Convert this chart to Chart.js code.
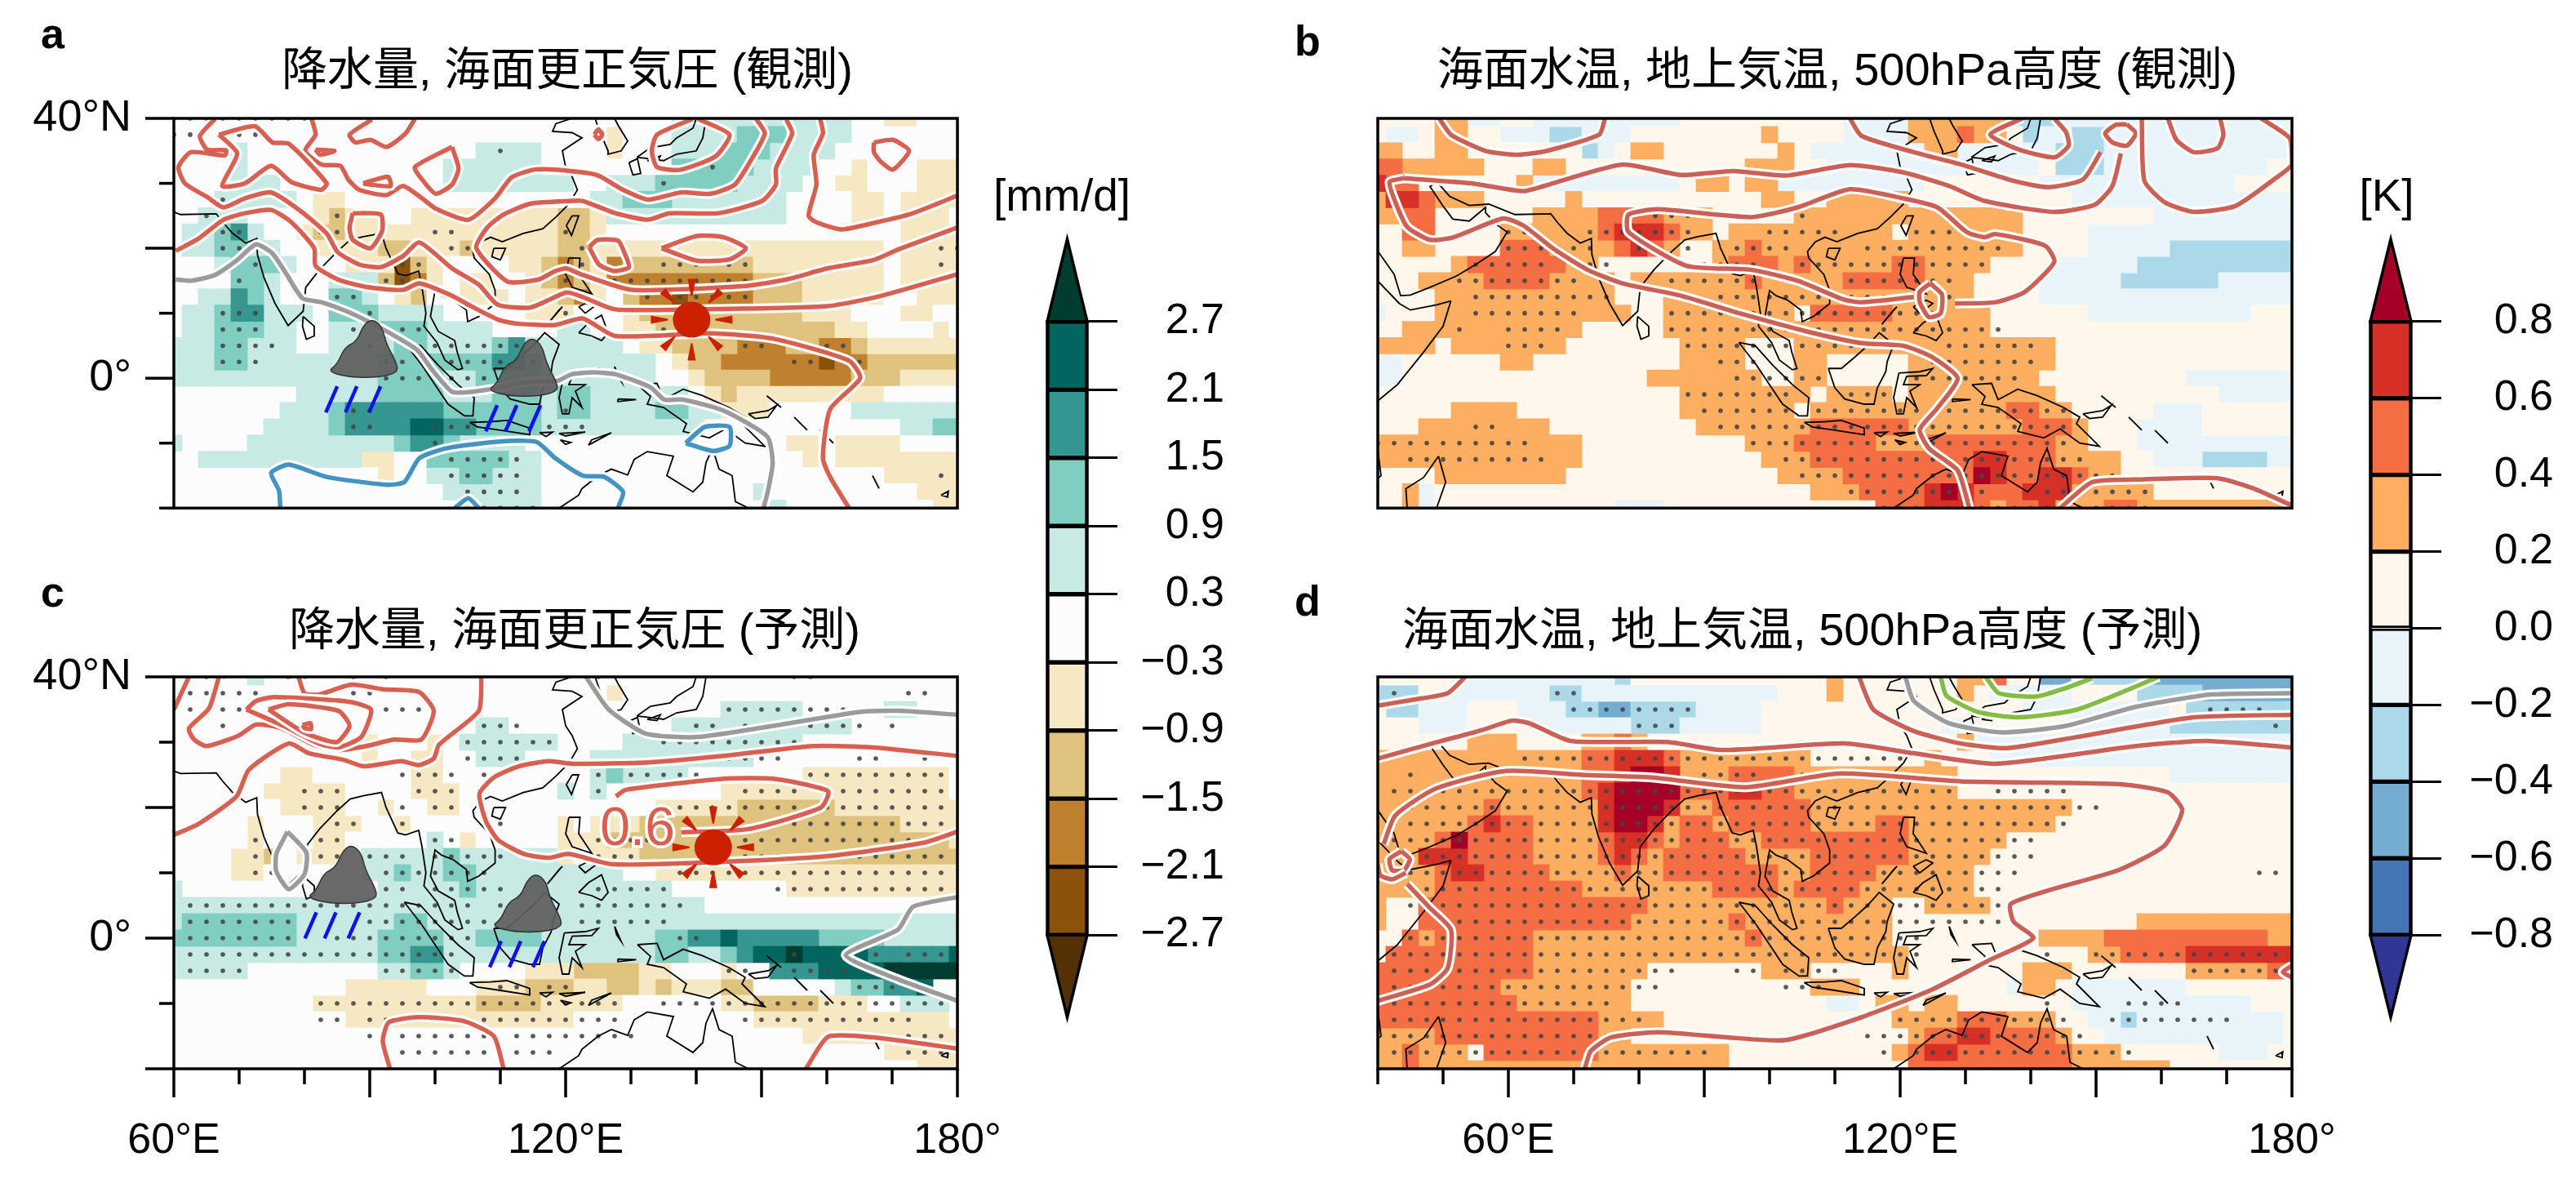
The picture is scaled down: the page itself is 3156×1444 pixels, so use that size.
<!DOCTYPE html>
<html>
<head>
<meta charset="utf-8">
<script src="https://cdn.jsdelivr.net/npm/chart.js@4"></script>
<style>
html,body{margin:0;padding:0;background:#fff;width:3156px;height:1444px;overflow:hidden}
canvas{position:absolute}
.txt{position:absolute;white-space:nowrap;line-height:1;color:#000;font-family:"Liberation Sans","Noto Sans CJK JP",sans-serif}
.ttl{font-size:56px;transform:translateX(-50%)}
.let{font-size:52px;font-weight:bold}
.unit{font-size:55px;transform:translateX(-50%)}
</style>
</head>
<body>
<div class="txt let" style="left:50px;top:15px">a</div>
<div class="txt let" style="left:1586px;top:24px">b</div>
<div class="txt let" style="left:50px;top:699px">c</div>
<div class="txt let" style="left:1586px;top:710px">d</div>
<div class="txt ttl" style="left:695px;top:57px">降水量, 海面更正気圧 (観測)</div>
<div class="txt ttl" style="left:2251px;top:57px">海面水温, 地上気温, 500hPa高度 (観測)</div>
<div class="txt ttl" style="left:704px;top:743px">降水量, 海面更正気圧 (予測)</div>
<div class="txt ttl" style="left:2208px;top:743px">海面水温, 地上気温, 500hPa高度 (予測)</div>
<div class="txt unit" style="left:1301px;top:212px">[mm/d]</div>
<div class="txt unit" style="left:2924px;top:212px">[K]</div>
<canvas id="mapA"></canvas>
<canvas id="mapB"></canvas>
<canvas id="mapC"></canvas>
<canvas id="mapD"></canvas>
<canvas id="barP"></canvas>
<canvas id="barT"></canvas>
<script>
// colour levels
const precipLevels = [-2.7,-2.1,-1.5,-0.9,-0.3,0.3,0.9,1.5,2.1,2.7]
const precipColors = ['#543005','#8c510a','#bf812d','#dfc27d','#f6e8c3','#fcfcfc','#c7eae5','#80cdc1','#35978f','#01665e','#003c30']
const precipBins = 'tsrqpnabcde'
const tempLevels = [-0.8,-0.6,-0.4,-0.2,0,0.2,0.4,0.6,0.8]
const tempColors = ['#313695','#4575b4','#74add1','#abd9e9','#e9f4f9','#fff7ec','#fdae61','#f46d43','#d73027','#a50026']
const tempBins = 'ZyxvuworRD'

const latTicks = [40,30,20,10,0,-10,-20]
const lonTicksC = [60,70,80,90,100,110,120,130,140,150,160,170,180]
const lonTicksD = [40,50,60,70,80,90,100,110,120,130,140,150,160,170,180]
const lonMajor = [60,90,120,150,180]

// binned cells per latitude row (40N down to 20S), bin letter + column range on the 2.5 degree grid
const precipObsCells = [
'a31-39 a40-41 p44-45',
'p27 a31-34 b35-37 a38-41',
'a4 a19-22 p27 a31-33 b34-36 a37-40',
'a4 a17-22 b31-35 a36-39 p42 p46-48',
'a4-6 a17-24 a27-29 b30-34 a35-38 p41-42 p46-48',
'a3-7 p9-10 a26-27 b28-30 a31-37 p42-43 p45-48',
'a2-4 p9 q10 p11-12 p15-23 q24-25 p26 a27-37 p42-43 p45-47',
'a1-2 b3 c4 a5 p8 q9-10 p11-23 q24-25 p26 p45-48',
'a1-2 b3-4 a5-6 p9-12 q13-14 p15-17 q18 p19-23 q24-25 p26-43 p45-48',
'a3 b4-6 a7 p11-13 s14 q15 p16 p21-22 q23 r24 q25 p26 r27 q28-35 p36-43 p45-48',
'b4-5 a6 a10-12 q13 s14 r15 p16 p18-19 p22 q23 r24 q25 p26 r27-35 q36-38 p39-43 p45-48',
'a2-3 c4 b5 a6 b10-11 a12 p14 q15 p18-20 p22-23 q24 r25 p26 q28 r29-35 s31 q36-38 p39-43 p46-48',
'a1-2 b3 c4-5 a6-8 b10-12 a13-16 p22-24 p28 q29-38 p39-41 p45-46',
'a1-2 b3-5 a6-7 a10-12 b13-15 a16-19 a24-25 p28-29 q30-40 p41-42 p47',
'a0-2 b3-4 a5-7 a10-13 b14-15 a16-19 b20 c21 a22-27 p29-30 q31-34 r35-37 q38-39 r40-41 q42 p43-48',
'a0-2 b3-4 a5-9 a10-12 b13-19 c20-21 b22 a23-29 p31 q32-33 r34-39 s40 r41-42 q43-48',
'a0-12 b13-16 a17-18 b19-22 a23-29 p32 q33-36 r37-41 q42-44 p45-48',
'a8-12 b13-16 a17-19 b20-22 a23 b24-25 a26-31 p33 q34 p35-43',
'a7-9 b10 c11-16 b17-22 a23 b24-25 a26-29 b30-31 a32-33 p34-36 a42-48',
'a6-9 b10 c11-14 d15-16 c17-18 b19-22 a23-32 a45-46 b47-48',
'a0 a5-13 b14 c15-16 b17 a18-21 p38-39 p41-44',
'a2-11 p12-13 b16-20 a21-22 p39 p41-48',
'p13 a16-17 b18-19 a20-22 p44-48',
'a17-22 a36 p46-48',
'a18-22 a37 p47-48'
]
const precipObsDots = [
'0-8','0 1 4 5','20','33','30','3','2 10','3 4 9 10 16 17 24','3 4 17 18 25 47 48',
'5 14 15 25 28 30-32 34 35 47','4 13 14 24 27-35','10 11 29 31-35','3-5 12 24','3-5 11 14 15 30',
'3-6 12 16-21 35 36 39-41','3-5 13 14 17-20 22 38 39 42','13-15 17-19','','11 12 24','11 12 16-18 23-25',
'16','17-21','17-21 47','18-21','19-22'
]

const precipFcstCells = [
'a5',
'p27',
'a34-38 a44-45',
'a19-20 a31-41',
'p12 p16 a18-23 a28-38',
'p12 p15-16 a19-21 a26-35',
'p7-8 p15-16 a26-31 b27 p39-47',
'p6-10 p15-17 a24 a26 p34-47',
'p7-10 p13 p16-17 p30-34 q35-40 p41-48',
'p5 p9-11 p14 p24 p26-28 q29-44 p45-48',
'p5 p9-10 a16 p18 p24-26 q27-47 p48',
'p4-5 q6 p8-10 a12-16 b17 a18-23 p24 p26-28 q29-48',
'p4-5 a12-13 b14 a15-16 b17-18 a19-27 p30-48',
'a0 a13-17 b18 a19-30 p38-48',
'a0-32',
'a0 b1-7 a8-13 b14-15 a16-48',
'b0-7 a8-12 b13-16 a17-18 b19-22 a23-29 b30-31 c32-33 d34 c35-39 b40-43 a44-48',
'a0-13 b13-14 c15-16 a17-29 b30-31 a32-33 b34 c35 d36-37 e38 d39-42 c43-47 d48',
'a0-4 a13-14 b15-16 a17 p22-24 q25-28 p29-30 p34 c37-39 d40-43 e44-48',
'p11-15 p19-21 q22-24 p25-26 q27-28 p29 q30 p31-33 q34-35 a41 b42-43 c44-45 d46',
'p9-18 q19-22 p23-27 p34-35 q36-39 p40-42 a45-47',
'p11-24 p36-47',
'p39-48',
'p44-48',
'p46-48'
]
const precipFcstDots = [
'2 3 7 8 11 13 26 38 39','1-5 11 12 45 46','1 3 4 13-15 34-41','3 19-21 32 33 35 39-42 44','18-23 30-38',
'18-21 32-37 42 43 46','14-17 19 20 26 28-32 39-47','8-10 15-17 26 35-38 41-47','8-10 14 16 17 30-38 40-47',
'10 11 14 20 36-47','5 9 10 16 17 26-29 35-47','5 9 10 12-14 16-20 26-28 35-47','5 6 13-19 31-47',
'13 14 16-20 26-30 37-47','1-18 20 25-31','1-7 12-19 25-30','1-7 10-18 31 32','1-17 38 43 45-47',
'1-4 13-17 34 35 38-41','20 21 23 24 42-44','9-27 30-47','9 10 12-27 35-45','12 14-19 21-28 45-47',
'14-19 21-23 45-47',''
]

const tempObsCells = [
'o4-5 u6-7 u10-18 u29-32 o33-38 v39-41 u42-56',
'u1-2 o4-5 u8 u9-10 v11-12 u13-15 o24 u29-32 o33-35 r36 o37-38 v40 u41-42 v43-44 u45-56',
'o0-1 o4-5 v13 u14 o16-17 o25 u27-33 o34-35 u36-41 v42-44 u45-56',
'r0-1 o2-6 o10-11 o23-25 u28-40 v42-44 u45-54',
'R0 r1-2 o9 u10-13 u14-18 o20-21 o23-24 u25-33 u41-44 u45-52',
'o0 R1-2 r3 o4-6 o12 o24-25 o28-32 u43-56',
'o0-1 r2-3 o10-13 r14-17 o18-20 o26 o27-39 u48-56',
'r2-3 o8-13 r14 R15-17 r18 o19-20 o22-31 o33-39 u44-56',
'o2-3 r8-10 o11-14 r15 R16 r17 o18 o21-22 r23 o24-39 u44-48 v49-56',
'o5 r6-11 o12-13 o21 r22-24 o25 r26 o27-28 r32-33 o29-31 o34-37 u42-46 v47-56',
'o3-6 r7-10 o11-14 o16-22 r23 o24-28 r29-33 o34-36 u41-45 v46-51 u52-56',
'o4-14 o18-25 o26-36 u41-56',
'u0 o4-15 o18-25 r27-31 o32-37 u44-53',
'o2-12 o18-37',
'o0-3 o5-11 o19-22 o26-41',
'u0-1 o8-9 o19-22 o26-27 o33-41',
'u0-1 o17-23 o26-27 o33-40 u50-56',
'o19-26 o28-31 o33-41 u52-56',
'o5-8 o19-25 o27-38 r39-40 o41-42 u48-50',
'o3-10 o20-26 r27-32 o33-39 r40-42 o43 u47-50',
'o0-12 o23-25 r26-30 o31-33 r34-41 o42-43 u47-56',
'o0-12 o24-26 r27-36 R37-38 r39-41 o42-45 u48-50 v51-54 u55-56',
'o4-11 o25-28 r29-36 D37 R38 r39-40 R41-42 r43 o44-45',
'o2 u3 o27-29 r30-33 R34 D35 R36 r37-39 R40-42 o43-47',
'o2 u3 u15-17 r31-33 R34-36 r37 o38 r39-40 R41 o42-44 r45-46 o47-55'
]
const tempObsDots = [
'','','','','','','17-19 26','8 9 13-19 24-28 33-35','8-13 16 19 22-25 30-38','6-10 13 14 20-23 26-37',
'5-12 18-23 29-35','6-14 21-27 29-32 35','6-12 18-34','5 8-11 18-38','8-10 19-29 35-40','21-23 34-40',
'22-27 33-39','19-25 29-31','20-25 27-42','6 7 21-42','0-9 23-42','2-10 25-43','26-45','29-37 41-47','31-47'
]

const tempFcstCells = [
'u5-14 v15 o28 o36-37 r38 x41-42 v44-47 x48-56',
'v0-2 u5-10 v11-12 u13-24 o28 o36 u38-42 v47-50 x51-56',
'v1-2 u3-5 u9-11 v12-13 x14-15 v16-19 u20-23 u40-48 v50-56',
'u3-5 u10-15 v16-18 u19-23 u35-36 u43-48 v49-56',
'o6-8 o13-14 r15 o16 o36 u37-56',
'o0-7 o8-12 r13-14 R15-17 r18 o19-26 o34 u38-56',
'o0-12 r13-14 R15 D16-17 R18 o19-21 r22-25 o26-35 u49-56',
'o0-12 r13 R14 D15-18 r19-21 R22-23 r24-25 o26-35',
'o0-6 r7 o8-13 R14 D15-17 R18 o19-20 r21-26 o27-42',
'o0-5 r6 R7 r8-9 o10-13 R14 D15-16 R17 o18 r19-20 o21 r22-26 o27-30 r31-32 o33-41',
'o0-3 r4 D5 r6-9 o10-13 r14 R15-16 r17 o18 r19-21 o22-23 r24-32 o33-38',
'o0-2 R3-5 r6-9 o10-13 r14 R15 r16 o17 r18-22 o23-26 r27-32 o33-37',
'o0-3 r4 R5-6 r7-10 o11-14 r15 o16-17 r18-24 o25-26 r27-30 o31-36',
'o0-3 r4-12 o13-20 r21-24 o25 r26-29 o30-36',
'o0 r3-16 o17-27 r28 o29-31 o34-37',
'o0 r3-15 o16-21 r22 o23-31 o47-56',
'r2 o3 r4-9 o10-22 r23 o24-31 o41-44 r45-54 o55-56',
'r1-9 o10-32 o44-45 r46-49 R50-56',
'r0-9 o10-16 o24-26 o32 o40-42 o50-54 r55-56',
'r0-7 o8-15 o27-29 u39 o40-41 u43-49',
'r0-8 o9-15 u28-29 o31-32 o34-35 u43-53',
'r0-13 o14-17 o32-35 r36-38 o39-41 u44-45 v46 u47-55',
'o0-3 r4-13 o14-15 o33 r34-35 R36-37 r38-41 o42 u45-55',
'o0-1 r2 o3-5 r7-13 o14-21 o32 r33 R34-35 r36-42 o43-45 u52-54',
'o0-1 r2 o3-12 o13-21 r33-42 o43-48'
]
const tempFcstDots = [
'','1 11 12','12-19 51-54','16-18 55','','9-32','2 20-23 26','1-35 38-42','2-44','1-42','1-38 39 40','2-40','2-39 54 55',
'2-38','2-38','4-38','2-33','1-33 41 44-55','1-18 22 23 25-28 50-55','1-17 25-27','1-14 41 46-49','1-16 32-42 45-52','1-14 30-43','1-20 31 33-46',''
]

// contour lines, lon,lat pairs
const precipObsRed = [
[60.3,19.6,63.8,21.5,67.6,24.4,70.9,25.4,74.9,25.9,78,24,81.5,20,81.7,17.3,85.1,15.2,89.7,14,95.1,13.6,97.6,14.6,102.6,12.7,105.5,11.1,109.7,9,112.6,8.4,118.4,8.2,122.6,9.2,127.6,6.5,142.2,6.9,151.7,6.1,163.4,2.7,165.1,0,160.5,-4.8,159.4,-12.3,160.5,-15.2,163.4,-20],
[66.3,39.9,64,37.3,65.1,35.2,68,35.1,67.8,34.3,62.6,34.8,60.7,32.5,61.7,30,65.1,27.9,67.6,26.3,70.9,27.7,74.9,28.6,79.2,25.9,83.4,22.3,85.1,19.4,88.4,17.5,91.7,17.1,95.1,18.8,97.6,20.9,102.6,16.9,106.7,14.4,109.6,11.3,114.7,10.9,120.1,13.2,122.6,12.5,127.6,10.6,139.2,10.6,160.1,11.1,168.4,12.7,180,16],
[180,23.2,170.9,19.8,167.2,18.2,160.1,16.9,153.8,15.2,147.6,14.2,130.1,13.6,122.6,15.9,120.1,16.9,118.4,16.5,115.9,15.2,111.3,14.8,108.4,17.3,106.3,20.2,108,23.2,110.5,25.2,114.7,26.9,120.9,27.3,122.6,27.3,127.6,25.4,132.6,24.4,135.9,25.4,143.4,25.4,150.1,27.3,152.2,29.8,152.2,32.3,154.7,37.7,153.8,39.8],
[149.2,39.9,150.5,37.7,148.4,33.6,145.9,29.8,142.2,28.4,137.6,28.6,132.6,27.5,128.8,29,124.7,31.3,118.4,32.1,115.1,32.1,111.7,30.9,109.2,27.7,105.1,24.4,100.1,26.1,98,27.7,95.1,29.6,92.6,28.2,88.4,29,86.7,30.6,85.5,32.7,82.6,32.9,80.1,35,81.7,37.5,81.1,39.9],
[66.9,37.5,72.4,38.8,75.1,36.3,77.6,36.1,83.4,30,82.6,29,78,30.2,74.9,32.7,70.9,30,67.4,29.6,69.7,34.6,66.9,37.5],
[81.7,35.2,84.6,35,82.4,34.4,81.7,35.2],
[90.3,39.8,86.9,37.5,87.8,36.3,90.1,36.7,92.6,35.6,95.5,37.7,96.9,39.9],
[102.6,35.6,103.6,32.3,102.6,29.8,100.1,28.4,98,30.6,96.9,32.5,102.6,35.6],
[89,30,92.8,31,93.2,29.6,90.1,29.8,89,30],
[87.4,25.4,91.7,25.2,91.9,22.7,90.1,20,87.4,21.3,86.9,23.1,87.4,25.4],
[124.4,37.5,125,38.3,125.6,37.5,125,36.8,124.4,37.5],
[139.4,39.9,134,37.5,133.2,35,134,32.5,137.6,32.1,143,34.2,145.1,37.5,140.3,39.9],
[167.2,36.3,170.1,36.7,172.6,35,170.1,32.1,168.2,33.4,167.2,34.8,167.2,36.3],
[159,39.9,159.4,37.7,158,34.4,158.4,29.8,157.2,25,158.4,24,162.2,22.9,165.9,23.6,172.6,25.2,180,28.1],
[123.6,20.2,124.9,21.3,128,21.2,128.8,19.8,129.7,17.1,127.4,16.5,125.1,17.5,123.6,20.2],
[134.7,20,140.1,21.9,144.2,21.7,147.6,20,145.1,18.3,140.1,18.1,134.7,20]
]
const precipObsGray = [
[60.3,15.2,62.6,15,66.3,15.9,69.7,18.2,72.6,20.6,75.1,19.2,77.2,16.1,79.7,12.3,82.6,11.7,86.7,10.2,91.7,7.7,97.2,4.4,99.7,1.1,102.6,-2.1,105.5,-2.1,110.1,-1.4,113.8,-0.6,118.8,-0.4,120.9,0.6,124.2,0.9,127.6,0.6,133,-1.4,135.1,-3.3,138,-3.3,144.2,-5,150.9,-9,151.7,-13.1,150.9,-17.7,150.3,-20]
]
const precipObsBlue = [
[76.3,-20,76.1,-17.3,74.9,-14.6,77.6,-13.3,83.4,-15.2,92.6,-16.4,95.3,-16,97.6,-12.3,101.7,-10.8,109.2,-9.8,115.5,-9.8,118.4,-12.3,122.6,-15,125.9,-15.2,128.8,-17.5,128,-20],
[103,-20,105.1,-18.5,106.7,-20],
[138.4,-10,141.3,-7.5,145.1,-7.5,145.1,-10.4,142.6,-11.2,138.4,-10]
]
const precipFcstRed = [
[60,15.8,63.8,17.5,69.6,21.7,71.5,25.8,77.6,29.8,80.7,28.3,86,27.3,89.1,26.3,94.8,27.1,97.5,26.5,99.8,27.5,100.6,29.6,106.7,34.8,107.1,40],
[60,35,62.3,40],
[66.9,40,65.4,35.2,62.3,32.1,63.1,30.4,65,29.4,69.9,31,72.6,32.7,76.5,32.1,81.4,29.6,85.2,28.8,89.5,29.4,93.7,30.4,97.9,30.4,99.8,34.8,97.5,37.7,92.1,38.1,87.2,38.8,82.2,37.3,80,37.5,79.1,40],
[71.1,35,72.6,36.3,75.3,36.9,86.8,36.2,90.2,35,88.7,30.8,85.2,29.2,82.2,29.8,76.8,32.5,71.1,35],
[74.5,35,77.6,35.8,85.2,34.8,86.9,32.5,84.9,30,79.9,31.5,74.5,35],
[79.7,32.6,80.9,32.9,81,32,80,32.2,79.7,32.6],
[180,27.9,167.1,29.2,157.9,29.4,144.2,27.9,132.7,26.9,121.2,26.7,117.4,27.1,112.8,26.3,109,24.6,106.8,22.1,107.8,17.9,109.7,15,113.6,12.9,117.4,12.3,120.4,12.9,127.3,11.3,144.2,11.7,159.5,12.5,174.8,14.6,180,16.3],
[127.7,21.7,129.2,22.7,144.2,24.4,151.8,24.4,160.2,22.5,159.1,20,148,16.7,137.7,16.2],
[93.1,-20,92,-15.8,92.9,-12.9,97.5,-12.1,104.4,-12.7,109,-15,110.5,-20],
[156.8,-20,160.2,-15.1,167.1,-15.2,180,-16.9]
]
const precipFcstGray = [
[123.1,40,126.6,35,132.3,31.3,140.3,30.8,151.8,32.5,164.8,34.6,170.9,34.8,180,34.2],
[77.4,16.3,80.3,13.1,80,9.8,77.6,7.5,75.7,10.2,75.7,12.9,77.4,16.3],
[180,6.3,173.2,4.8,170.9,1.3,162.9,-2.6,170.9,-6.3,180,-9.6]
]
const tempObsRed = [
[49.4,40,51.2,37.5,56.5,35,61.4,34.4,65.9,35,73.9,37.5,74.8,40],
[44,30.8,41.8,30.2,42.7,27.1,44.5,23.3,48,21.3,51.6,21.7,59.2,24.6,62.3,23.5,66.8,20,72.1,16.7,77.5,14.6,86.4,12.7,95.4,10,106.1,7.1,114.1,5.4,120.4,5,124.8,3.3,128.8,0,125.7,-4.6,123,-7.9,124.4,-10.8,128.8,-14.2,130.6,-20],
[44,30.8,54.3,30,62.3,28.8,66.8,30,77.5,32.9,86.4,31.3,94.5,31.9,102.5,31.2,112.3,32.8,120.4,31.7,127.5,29.6,132.9,27.3,143.6,25.6,149.8,26.7,152.5,29.6,153.8,34.6],
[154.7,39.1,156.1,37.7,154.7,35.8,152.5,36.3,151.4,37.7,153,39,154.7,39.1],
[128.4,11.5,134.6,11.7,139.1,13.3,143.6,17.9,142.2,20.4,134.6,22.2,132.9,21.7,130.2,22.5,125.7,26.3,120.4,27.7,112.3,29.1,104.3,26.3,97.1,24.8,82.9,26,78.4,25.2,78.4,22.5,87.3,17.3,97.1,16.7,104.3,15,111.4,12.1,114.1,11.7,122.1,12.5],
[124.6,14.6,126.4,12.9,126.2,10,124.4,9.4,123,11.7,123,13.3,124.6,14.6],
[112.3,40,114.1,37.3,122.1,34.8,129.3,32.9,137.3,30.4,142.7,29.4,148,30.6,150.7,34.8],
[138.7,40,133.8,37.5,138.2,35.2,143.6,34,145.8,35.8,145.4,37.9,143.6,40],
[161,40,162.3,36.7,165,34.8,168.6,35.4,169.5,37.5,169,40],
[157,40,157.4,30.4,160.5,27.1,165,25.6,171.3,26.5,177.5,30.8,180,32.9,179.7,36.9,175.3,40],
[144.5,-20,149.4,-16,156.1,-15.6,168.6,-15.4,173.9,-16.9,180,-19.6]
]
const tempFcstRed = [
[53.4,40,50.7,37.5,45.4,36.5,40,35.6],
[40,27.5,49.8,30.2,56.1,31.9,60.5,33.3,63.2,32.9,69.5,30.2,84.6,30,92.7,28.8,111.4,29.8,122.1,28.3,134.6,26.7,156.1,29.4,166.8,30.2,180,29.2],
[40.9,14.4,42.7,18.8,48.9,22.9,59.6,25.6,71.3,25,82,24.6,96.3,23.1,110.5,25.2,129.3,24,142.7,23.8,154.3,23.5,161,22.3,163.2,19.6,160.5,14.2,153.4,10.4,142.7,7.3,136.9,5.2,137.4,2.5,140.4,0,133.8,-3.3,124.8,-7.9,114.1,-12.1,102.5,-15.6,93.6,-15.2,82.9,-14.4,75.7,-15.2,72.6,-17.3,71.7,-20],
[43.6,13.3,44.9,12.1,44,10.4,42.2,10.4,41.8,12.1,43.6,13.3],
[40,11.3,40.4,9.6,42.2,9,44.3,10],
[44.5,8.3,48,4.6,51.2,1.3,50.7,-4.6,48,-7.1,40,-9.6],
[180,-4.2,178.6,-5.2,180,-6],
[113.7,40,115.9,35,122.1,31.7,129.3,29.8,136.4,29.1,147.1,30.8,165,33.8,180,34.2]
]
const tempFcstGray = [
[120.8,40,122.1,36.3,127.5,32.9,135.5,31.5,145.4,32.5,156.1,35.4,167.7,37.3,180,37.5]
]
const tempFcstGreen = [
[126.2,40,127.1,37.1,132,34.6,138.2,33.8,147.1,35,159.6,40],
[133.1,40,135.1,37.5,140.9,37,145.4,38.3,149.4,39.8]
]

// coastlines, lon,lat pairs
const coastLines = [
[51.2,11.9,50,8,47,4,43,-1,40,-3.5,39,-6,40,-11,40.5,-15,37,-18,35,-20],
[51.2,11.9,49,11.3,45,10.5,43.3,11.5,39.5,15.5,37.3,19],
[39,21,42.5,16,43.5,12.7,45,12.8,48,14,52,15.7,55,17.5,58,19.5,59.8,22.5,58,23.8,56.5,25.5,56.5,26.3,54,24.2,51.5,24.5,50,26.5,48,29.5,49,30.3,51,28,54,26.6,57,26.8,61,25.2,66.5,25.3,67.5,24,69,22.3,71,20.8,72.7,21.5,72.8,19,73.8,15.5,75.5,11.5,77.5,8.1,79.8,10.3,80.2,14,82.3,16.7,85,19.5,87,21.3,89,21.8,91.8,22.3,92.5,20,94.3,16.1,95.5,15.8,97.5,16.5,98,14,98.6,10,98.3,8,100.3,5.5,101.5,2.8,103.5,1.3,104.2,1.5,103.4,4,103,5.8,100.5,7.2,99.3,9.5,100,13.5,101,12.7,102.8,12,104.8,10.5,105,8.7,106.7,9.5,109.2,11.5,109.2,13.5,108.3,16,106,18.5,105.8,19.5,107,21,108.5,21.7,110.3,21,113.5,22.3,116.5,23,118.5,24.8,120.5,26.8,121.8,29,121,31,120,32.5,119.5,35,122.5,37,121,37.8,118,38,118.5,39.2,121,40],
[124.5,40,125.2,38,126.5,35,126.5,34.5,128.5,35,129.5,36.5,128,39,127.5,40],
[121,25,122,25,120.9,22,120.1,23.5,121,25],
[109,20,110.8,20,110,18.2,108.7,18.7,109,20],
[79.8,9.5,81.5,8,81.5,6.5,80.3,6,79.7,8,79.8,9.5],
[95.3,5.5,97.8,5,100.5,2,103.5,-1,106,-3,105.8,-5.8,104.5,-5.8,102,-4,100,-1,98,2,95.3,5.5],
[105.3,-6.8,108.5,-6.7,111,-6.5,114.5,-7.7,114.5,-8.7,110,-8,106.5,-7.5,105.3,-6.8],
[109,1.5,111,1.5,113,3.2,115,5,116.8,7,119,5.2,118,2.5,117.8,1,116.5,-1.5,116,-4,114.5,-4,111.5,-3.2,110,-1.5,109,1.5],
[119.8,0.8,123,1,125,1.5,124,0.4,121,0.3,120.5,-1,123,-1,121.5,-2,122.5,-4.5,121,-3,120.5,-5.5,119.5,-5.5,119,-3,119.8,0.8],
[120.5,18.5,122.2,18.5,122,16,124,13,121,14,120,16,120.5,18.5],
[122,7,123.5,8.5,125.5,9.7,126.5,7,125.5,5.8,124,6.5,122,7],
[117.2,8.3,119.5,11,119,10.5,117.2,8.3],
[122,11,123,10,125,11.5,124,12,122,11],
[131,-1,134,-0.8,135,-3.3,138,-1.7,141,-2.7,145,-4.5,147.5,-6,147,-7,150.5,-10.5,147.5,-10,144.5,-7.8,142,-9.2,138,-8.2,138.5,-7,135,-4.5,132.5,-4,133,-2.8,131,-1],
[119,-20,122,-18,122.5,-17,125,-15,127,-14,129.5,-14.9,130.5,-12.5,132.5,-11.3,136.5,-12,135.5,-15,139.5,-17.5,141,-16,141.5,-13,142.5,-10.8,143.5,-14,145.5,-15,146,-19,148,-20],
[148,-5.5,151,-5,152.3,-4.2,151,-6,149,-6.2,148,-5.5],
[155,-6,157,-8],[159,-8,161,-10],[150.8,-2.7,153,-4.5],
[123.5,-10.3,127,-8.4,124,-9.5,123.5,-10.3],
[119,-8.5,123,-8.3,120,-8.9,119,-8.5],
[116,-8.4,118,-8.3,117,-9,116,-8.4],
[119.2,-9.5,120.8,-9.9,120,-10.2,119.2,-9.5],
[128,-3.2,130.8,-3.3,128,-3.6,128,-3.2],
[127.5,1.8,128.5,-0.5,127.8,0.5,127.5,1.8],
[167,-15,168,-17],[177.5,-18,178.6,-17.4,178.5,-18.3,177.5,-18],
[49.3,-12,50.4,-16,49,-20,44.5,-20,44.3,-17,47,-15.3,49.3,-12],
[130.9,34,133,35.5,136,36,137,37,139.5,38.5,140,40,141.5,40,141,37,140,35,137,34.5,135,33.5,132,33.9,130.9,34],
[129.7,33.2,131,33.8,131.5,31.5,130.3,31.3,129.7,33.2],
[132.5,33.5,134.5,34.2,134,33.3,132.5,33.5]
]

const redLine = 'rgb(217,96,80)'
const redLineT = 'rgb(205,96,84)'
const grayLine = 'rgb(155,155,155)'
const blueLine = 'rgb(67,147,195)'
const greenLine = 'rgb(130,188,65)'

// weather symbols, lon,lat anchors
const cloudsObs = [[88.9,0],[113.4,-2.9]]
const sunsObs = [[139.3,9]]
const cloudsFcst = [[85.7,5.2],[114,0.8]]
const sunsFcst = [[142.6,13.9]]

Chart.defaults.font.family = '"Liberation Sans","Noto Sans CJK JP",sans-serif'
Chart.defaults.font.size = 52
Chart.defaults.color = '#000'
Chart.defaults.animation = false

function pairs(flat) {
  const out = []
  for (let i = 0; i < flat.length; i += 2) out.push({x: flat[i], y: flat[i + 1]})
  return out
}

function parseCells(rows, lon0, bins, base) {
  const n = (180 - lon0) / 2.5 + 1
  const buckets = {}
  for (const b of bins) buckets[b] = []
  rows.forEach((row, r) => {
    const line = new Array(n).fill(base)
    for (const tok of row.split(' ').filter(Boolean)) {
      const m = tok.match(/^([a-zA-Z])(\d+)(?:-(\d+))?$/)
      const c0 = +m[2], c1 = m[3] ? +m[3] : c0
      for (let c = c0; c <= c1 && c < n; c++) line[c] = m[1]
    }
    line.forEach((b, c) => buckets[b].push({x: lon0 + c * 2.5, y: 40 - r * 2.5}))
  })
  return buckets
}

function parseDots(rows, lon0) {
  const out = []
  rows.forEach((row, r) => {
    for (const tok of row.split(' ').filter(Boolean)) {
      const [a, b] = tok.split('-').map(Number)
      for (let c = a; c <= (b === undefined ? a : b); c++) out.push({x: lon0 + c * 2.5, y: 40 - r * 2.5})
    }
  })
  return out
}

function contourSets(lines, color) {
  const sets = []
  lines.forEach(l => {
    const data = pairs(l)
    sets.push({data, showLine: true, pointRadius: 0, borderColor: '#fff', borderWidth: 12, tension: 0.2, clip: 0})
    sets.push({data, showLine: true, pointRadius: 0, borderColor: color, borderWidth: 5.5, tension: 0.2, clip: 0})
  })
  return sets
}

function drawCloud(ctx, x, y) {
  const shape = [[-43,-8],[-31,-17],[-22,-38],[-7,-45],[1,-65],[12,-73],[24,-63],[29,-42],[42,-18],[43,-7],[20,-1],[-15,-1]]
  ctx.save()
  ctx.beginPath()
  const mid = (a, b) => [(a[0] + b[0]) / 2, (a[1] + b[1]) / 2]
  let m = mid(shape[shape.length - 1], shape[0])
  ctx.moveTo(x + m[0], y + m[1])
  shape.forEach((p, i) => {
    m = mid(p, shape[(i + 1) % shape.length])
    ctx.quadraticCurveTo(x + p[0], y + p[1], x + m[0], y + m[1])
  })
  ctx.closePath()
  ctx.fillStyle = 'rgba(95,95,95,0.93)'
  ctx.fill()
  ctx.lineWidth = 1.5
  ctx.strokeStyle = '#333'
  ctx.stroke()
  ctx.strokeStyle = '#1010f0'
  ctx.lineWidth = 4.5
  for (const dx of [-31,-7,22]) {
    ctx.beginPath()
    ctx.moveTo(x + dx, y + 10)
    ctx.lineTo(x + dx - 14, y + 42)
    ctx.stroke()
  }
  ctx.restore()
}

function drawSun(ctx, x, y) {
  ctx.save()
  ctx.fillStyle = '#cc2000'
  ctx.beginPath()
  ctx.ellipse(x, y, 23, 22, 0, 0, Math.PI * 2)
  ctx.fill()
  for (let i = 0; i < 8; i++) {
    ctx.save()
    ctx.translate(x, y)
    ctx.rotate(i * Math.PI / 4)
    ctx.beginPath()
    ctx.moveTo(-1, -29)
    ctx.lineTo(1, -29)
    ctx.lineTo(5, -50)
    ctx.lineTo(-5, -50)
    ctx.closePath()
    ctx.fill()
    ctx.restore()
  }
  ctx.restore()
}

const mapDecor = {
  id: 'mapDecor',
  afterDatasetsDraw(chart, args, o) {
    const {ctx, scales: {x, y}} = chart
    if (o.label) {
      ctx.save()
      ctx.font = '66px "Liberation Sans"'
      ctx.textAlign = 'center'
      ctx.textBaseline = 'middle'
      ctx.lineWidth = 7
      ctx.strokeStyle = '#fff'
      ctx.strokeText(o.label.text, x.getPixelForValue(o.label.lon), y.getPixelForValue(o.label.lat))
      ctx.fillStyle = redLine
      ctx.fillText(o.label.text, x.getPixelForValue(o.label.lon), y.getPixelForValue(o.label.lat))
      ctx.restore()
    }
    for (const c of o.clouds || []) drawCloud(ctx, x.getPixelForValue(c[0]), y.getPixelForValue(c[1]))
    for (const s of o.suns || []) drawSun(ctx, x.getPixelForValue(s[0]), y.getPixelForValue(s[1]))
  },
  afterDraw(chart, args, o) {
    const {ctx, chartArea: a, scales: {x, y}} = chart
    ctx.save()
    ctx.strokeStyle = '#000'
    ctx.lineWidth = 3.5
    ctx.strokeRect(a.left, a.top, a.right - a.left, a.bottom - a.top)
    if (o.showX) x.ticks.forEach(t => {
      const p = x.getPixelForValue(t.value)
      ctx.beginPath()
      ctx.moveTo(p, a.bottom)
      ctx.lineTo(p, a.bottom + (lonMajor.includes(t.value) ? 35 : 19))
      ctx.stroke()
    })
    if (o.showY) y.ticks.forEach(t => {
      const p = y.getPixelForValue(t.value)
      ctx.beginPath()
      ctx.moveTo(a.left, p)
      ctx.lineTo(a.left - (o.yMajor.includes(t.value) ? 35 : 18), p)
      ctx.stroke()
    })
    ctx.restore()
  }
}

function noPad(s) {
  s.paddingLeft = s.paddingRight = s.paddingTop = s.paddingBottom = 0
}

function drawMap(id, p) {
  const canvas = document.getElementById(id)
  const leftW = p.showY ? 185 : 20
  const botH = p.showX ? 125 : 12
  const lon0 = p.lon0
  const W = leftW + p.w + 60, H = 30 + 480 + botH
  canvas.width = W
  canvas.height = H
  canvas.style.left = (p.left - leftW) + 'px'
  canvas.style.top = (p.top - 30) + 'px'

  const buckets = parseCells(p.cells, lon0, p.bins, p.base)
  const datasets = []
  for (let i = 0; i < p.bins.length; i++) {
    datasets.push({label: p.bins[i], data: buckets[p.bins[i]], pointStyle: 'rect', pointRadius: 14.7, pointBorderWidth: 0, backgroundColor: p.colors[i], clip: 0})
  }
  datasets.push({label: 'stipple', data: parseDots(p.dots, lon0), pointRadius: 2.8, pointBorderWidth: 0, backgroundColor: 'rgba(70,70,70,0.9)', clip: 0})
  coastLines.forEach(l => datasets.push({data: pairs(l), showLine: true, pointRadius: 0, borderColor: '#000', borderWidth: 1.8, tension: 0, clip: 0}))
  for (const group of p.contours) datasets.push(...contourSets(group[0], group[1]))
  datasets.forEach((d, i) => { d.order = -i })

  new Chart(canvas, {
    type: 'scatter',
    data: {datasets},
    plugins: [mapDecor],
    options: {
      responsive: false,
      devicePixelRatio: 1,
      layout: {padding: {top: 30, right: 60, left: 0, bottom: 0}},
      plugins: {
        legend: {display: false},
        tooltip: {enabled: false},
        mapDecor: {clouds: p.clouds, suns: p.suns, label: p.label, showX: p.showX, showY: p.showY, yMajor: p.yMajor}
      },
      scales: {
        x: {
          type: 'linear', min: lon0, max: 180,
          grid: {display: false}, border: {display: false},
          afterBuildTicks: s => { s.ticks = (lon0 === 60 ? lonTicksC : lonTicksD).map(v => ({value: v})) },
          afterFit: s => { s.height = botH; noPad(s) },
          ticks: {
            display: p.showX, autoSkip: false, maxRotation: 0, padding: 49,
            callback: v => v === 180 ? '180°' : (v === 60 || v === 120 ? v + '°E' : '')
          }
        },
        y: {
          type: 'linear', min: -20, max: 40,
          grid: {display: false}, border: {display: false},
          afterBuildTicks: s => { s.ticks = latTicks.map(v => ({value: v})) },
          afterFit: s => { s.width = leftW; noPad(s) },
          ticks: {
            display: p.showY, autoSkip: false, padding: 44, font: {size: 54},
            callback: v => v === 40 ? '40°N' : (v === 0 ? '0°' : '')
          }
        }
      }
    }
  })
}

function drawBar(id, p) {
  const canvas = document.getElementById(id)
  canvas.width = p.labelRight - p.barLeft + 20
  canvas.height = 1000
  canvas.style.left = (p.barLeft - 10) + 'px'
  canvas.style.top = (p.tipTop - 20) + 'px'
  const bins = p.colors.slice(1, -1)
  const datasets = bins.map((c, i) => ({
    data: [[p.levels[i], p.levels[i + 1]]],
    backgroundColor: c, borderColor: '#000', borderWidth: 3, borderSkipped: false,
    categoryPercentage: 1, barPercentage: 1
  }))
  const tips = {
    id: 'tips',
    afterDraw(chart) {
      const {ctx, chartArea: a, scales: {y}} = chart
      const cx = (a.left + a.right) / 2
      const lo = p.levels[0], hi = p.levels[p.levels.length - 1]
      ctx.save()
      ctx.lineWidth = 3.5
      ctx.strokeStyle = '#000'
      ctx.lineJoin = 'miter'
      ;[[hi, p.max, p.colors[p.colors.length - 1]], [lo, -p.max, p.colors[0]]].forEach(t => {
        ctx.beginPath()
        ctx.moveTo(a.left, y.getPixelForValue(t[0]))
        ctx.lineTo(cx, y.getPixelForValue(t[1]))
        ctx.lineTo(a.right, y.getPixelForValue(t[0]))
        ctx.closePath()
        ctx.fillStyle = t[2]
        ctx.fill()
        ctx.stroke()
      })
      ctx.strokeRect(a.left, y.getPixelForValue(hi), a.right - a.left, y.getPixelForValue(lo) - y.getPixelForValue(hi))
      ctx.restore()
    }
  }
  new Chart(canvas, {
    type: 'bar',
    data: {labels: [''], datasets},
    plugins: [tips],
    options: {
      responsive: false,
      devicePixelRatio: 1,
      layout: {padding: {top: 20, bottom: canvas.height - 20 - (p.tipBottom - p.tipTop), left: 10, right: 0}},
      plugins: {legend: {display: false}, tooltip: {enabled: false}},
      scales: {
        x: {stacked: true, display: false},
        y: {
          position: 'right', min: -p.max, max: p.max, stacked: false,
          border: {display: false},
          grid: {drawOnChartArea: false, tickLength: 37, tickWidth: 3, tickColor: '#000'},
          afterBuildTicks: s => { s.ticks = p.levels.map(v => ({value: v})) },
          afterFit: s => { s.width = p.labelRight - p.barRight; noPad(s) },
          ticks: {
            autoSkip: false, crossAlign: 'far', font: {size: 52},
            callback: v => (v < 0 ? '\u2212' : '') + Math.abs(v).toFixed(1)
          }
        }
      }
    }
  })
}

drawMap('mapA', {left: 213, top: 145, w: 960, lon0: 60, showX: false, showY: true, yMajor: [40,20,0],
  cells: precipObsCells, dots: precipObsDots, bins: precipBins, colors: precipColors, base: 'n',
  contours: [[precipObsRed, redLine], [precipObsGray, grayLine], [precipObsBlue, blueLine]],
  clouds: cloudsObs, suns: sunsObs})
drawMap('mapC', {left: 213, top: 829, w: 960, lon0: 60, showX: true, showY: true, yMajor: [40,20,0,-20],
  cells: precipFcstCells, dots: precipFcstDots, bins: precipBins, colors: precipColors, base: 'n',
  contours: [[precipFcstRed, redLine], [precipFcstGray, grayLine]],
  clouds: cloudsFcst, suns: sunsFcst, label: {text: '0.6', lon: 131, lat: 16.5}})
drawMap('mapB', {left: 1688, top: 145, w: 1120, lon0: 40, showX: false, showY: false,
  cells: tempObsCells, dots: tempObsDots, bins: tempBins, colors: tempColors, base: 'w',
  contours: [[tempObsRed, redLineT]]})
drawMap('mapD', {left: 1688, top: 829, w: 1120, lon0: 40, showX: true, showY: false,
  cells: tempFcstCells, dots: tempFcstDots, bins: tempBins, colors: tempColors, base: 'w',
  contours: [[tempFcstRed, redLineT], [tempFcstGray, grayLine], [tempFcstGreen, greenLine]]})
drawBar('barP', {barLeft: 1283, barRight: 1322, labelRight: 1490, tipTop: 293, tipBottom: 1246, levels: precipLevels, colors: precipColors, max: 3.425})
drawBar('barT', {barLeft: 2904, barRight: 2944, labelRight: 3118, tipTop: 293, tipBottom: 1246, levels: tempLevels, colors: tempColors, max: 1.0147})
</script>
</body>
</html>
